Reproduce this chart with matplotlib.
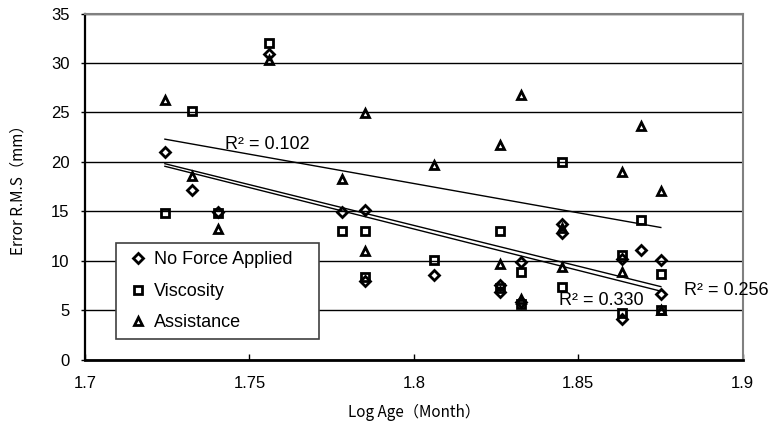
import numpy as np
import matplotlib.pyplot as plt

# log10 of age in months, one entry per child
log_age = [1.7243, 1.7324, 1.7404, 1.7559, 1.7782, 1.7853, 1.7853, 1.8062, 1.8261, 1.8261,
           1.8325, 1.8325, 1.8451, 1.8451, 1.8633, 1.8633, 1.8692, 1.8751, 1.8751]

# RMS error (mm) for each condition
no_force = [21.0, 17.1, 14.9, 30.9, 14.9, 15.1, 7.9, 8.6, 7.5, 6.8,
            9.9, 5.8, 13.7, 12.8, 10.2, 4.1, 11.1, 10.1, 6.6]
viscosity = [14.8, 25.1, 14.8, 32.0, 13.0, 13.0, 8.3, 10.1, 13.0, 7.2,
             8.9, 5.6, 20.0, 7.3, 10.6, 4.7, 14.1, 8.7, 5.0]
assistance = [26.3, 18.6, 13.2, 30.3, 18.3, 24.9, 11.0, 19.7, 21.7, 9.7,
              26.8, 6.1, 13.3, 9.4, 19.0, 8.9, 23.6, 17.0, 5.0]

series_names = ['No Force Applied', 'Viscosity', 'Assistance']
r2_labels = ['R² = 0.256', 'R² = 0.330', 'R² = 0.102']

num_font = 'Liberation Sans'
jp_font = ['Noto Sans CJK JP', 'DejaVu Sans']

fig = plt.figure(figsize=(7.69, 4.33), dpi=100)
ax = fig.add_axes([0.1105, 0.1697, 0.8553, 0.7991])

x = np.array(log_age)
styles = [('D', 5.0), ('s', 6.0), ('^', 6.4)]
for y, name, (m, ms) in zip([no_force, viscosity, assistance], series_names, styles):
    ax.plot(x, y, linestyle='none', marker=m, markersize=ms, markerfacecolor='none',
            markeredgecolor='black', markeredgewidth=2.0, label=name, zorder=3)

# linear trend lines over the data range
xs = np.array([x.min(), x.max()])
for y in [no_force, viscosity, assistance]:
    k, b = np.polyfit(x, y, 1)
    ax.plot(xs, k * xs + b, color='black', lw=1.0, zorder=2)

ax.text(1.7427, 21.7, r2_labels[2], fontsize=13, family=num_font, va='center')
ax.text(1.8442, 6.0, r2_labels[1], fontsize=13, family=num_font, va='center')
ax.text(1.8820, 7.0, r2_labels[0], fontsize=13, family=num_font, va='center', clip_on=False)

ax.set_xlim(1.7, 1.9)
ax.set_ylim(0, 35)
ax.set_xticks([1.7, 1.75, 1.8, 1.85, 1.9])
ax.set_xticklabels(['1.7', '1.75', '1.8', '1.85', '1.9'])
ax.set_yticks(range(0, 36, 5))
ax.tick_params(axis='x', direction='in', length=4, width=1, pad=12, labelsize=12)
ax.tick_params(axis='y', direction='out', length=3, width=1, pad=8, labelsize=12)
for lbl in ax.get_xticklabels() + ax.get_yticklabels():
    lbl.set_family(num_font)

ax.yaxis.grid(True, color='black', lw=1.0)
ax.set_axisbelow(True)
ax.spines['left'].set_linewidth(1.6)
ax.spines['bottom'].set_linewidth(2.0)
for side in ['top', 'right']:
    ax.spines[side].set_color('#808080')
    ax.spines[side].set_linewidth(1.5)

ax.set_xlabel('Log Age（Month）', family=jp_font, fontsize=11, labelpad=9)
ax.set_ylabel('Error R.M.S（mm）', family=jp_font, fontsize=11, labelpad=18)

leg = ax.legend(loc='lower left', bbox_to_anchor=(0.047, 0.058, 0.309, 0.282), mode='expand',
                borderaxespad=0, fancybox=False, framealpha=1, edgecolor='#404040',
                handlelength=1.6, handletextpad=0.05, labelspacing=0.8, borderpad=0.45,
                prop={'family': num_font, 'size': 13})
leg.get_frame().set_linewidth(1.2)

fig.savefig('out.png', dpi=100)
